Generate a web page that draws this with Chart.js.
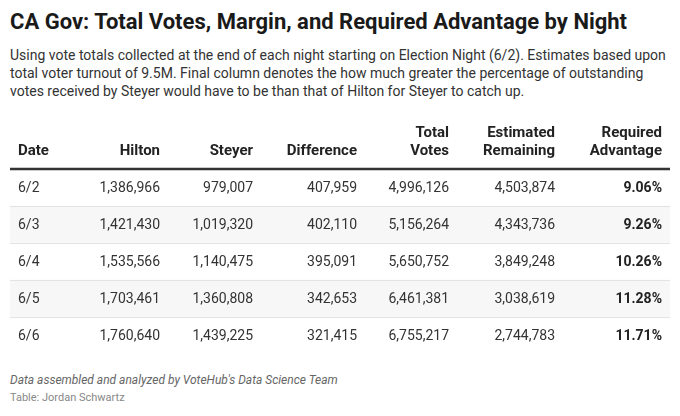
<!DOCTYPE html>
<html>
<head>
<meta charset="utf-8">
<script src="https://cdn.jsdelivr.net/npm/chart.js@4.4.0/dist/chart.umd.min.js"></script>
<style>
	html, body { margin: 0; padding: 0; background: #fff; }
	body { width: 680px; height: 416px; position: relative; overflow: hidden; font-family: Roboto, "Noto Sans", sans-serif; }
	#title { position: absolute; left: 10px; top: 8px; font-size: 22px; font-weight: 700; line-height: 28px; color: #1a1a1a; white-space: nowrap; }
	#subtitle { position: absolute; left: 10px; top: 46px; width: 665px; font-size: 14px; line-height: 18px; color: #333; }
	#source { position: absolute; left: 10px; top: 373px; font-size: 12px; font-style: italic; color: #666; }
	#byline { position: absolute; left: 10px; top: 391px; font-size: 11px; color: #888; }
	#wrap { position: absolute; left: 0; top: 110px; width: 680px; height: 250px; }
</style>
</head>
<body>
<div id="title">CA Gov: Total Votes, Margin, and Required Advantage by Night</div>
<div id="subtitle">Using vote totals collected at the end of each night starting on Election Night (6/2). Estimates based upon total voter turnout of 9.5M. Final column denotes the how much greater the percentage of outstanding votes received by Steyer would have to be than that of Hilton for Steyer to catch up.</div>
<div id="wrap"><canvas id="tableChart" width="680" height="250"></canvas></div>
<div id="source">Data assembled and analyzed by VoteHub's Data Science Team</div>
<div id="byline">Table: Jordan Schwartz</div>

<script>
// Data tabel per malam
const dates = ["6/2", "6/3", "6/4", "6/5", "6/6"];
const hilton = [1386966, 1421430, 1535566, 1703461, 1760640];
const steyer = [979007, 1019320, 1140475, 1360808, 1439225];
const difference = [407959, 402110, 395091, 342653, 321415];
const totalVotes = [4996126, 5156264, 5650752, 6461381, 6755217];
const remaining = [4503874, 4343736, 3849248, 3038619, 2744783];
const advantage = [9.06, 9.26, 10.26, 11.28, 11.71];
const headers = [
	["Date"],
	["Hilton"],
	["Steyer"],
	["Difference"],
	["Total", "Votes"],
	["Estimated", "Remaining"],
	["Required", "Advantage"],
];

function fmt(n) {
	return new Intl.NumberFormat("en-US").format(n);
}

// isi sel per kolom
const columns = [
	dates,
	hilton.map(fmt),
	steyer.map(fmt),
	difference.map(fmt),
	totalVotes.map(fmt),
	remaining.map(fmt),
	advantage.map((v) => v.toFixed(2) + "%"),
];

// posisi teks tiap kolom (unit skala x, lebar tabel 0..660)
const colAnchor = [8, 150, 243, 347, 439, 545, 652];
const colAlign = ["left", "right", "right", "right", "right", "right", "right"];

const tablePlugin = {
	id: "tableCells",
	afterDatasetsDraw(chart) {
		const ctx = chart.ctx;
		const x = chart.scales.x;
		const y = chart.scales.y;
		const area = chart.chartArea;
		ctx.save();

		// garis pemisah baris
		ctx.strokeStyle = "#e3e3e3";
		ctx.lineWidth = 1;
		for (let i = 0; i < dates.length - 1; i++) {
			const yy = Math.round((y.getPixelForValue(i) + y.getPixelForValue(i + 1)) / 2) + 0.5;
			ctx.beginPath();
			ctx.moveTo(area.left, yy);
			ctx.lineTo(area.right, yy);
			ctx.stroke();
		}

		// garis header
		ctx.strokeStyle = "#333";
		ctx.lineWidth = 2.5;
		ctx.beginPath();
		ctx.moveTo(area.left, area.top);
		ctx.lineTo(area.right, area.top);
		ctx.stroke();

		// header
		ctx.fillStyle = "#222";
		ctx.font = "700 15px Roboto";
		ctx.textBaseline = "middle";
		headers.forEach((lines, c) => {
			ctx.textAlign = colAlign[c];
			const px = x.getPixelForValue(colAnchor[c]);
			lines.forEach((t, k) => {
				const py = area.top - 18 - (lines.length - 1 - k) * 18;
				ctx.fillText(t, px, py);
			});
		});

		// sel
		columns.forEach((col, c) => {
			ctx.textAlign = colAlign[c];
			ctx.font = c === columns.length - 1 ? "700 14px Roboto" : "400 14px Roboto";
			ctx.fillStyle = c === columns.length - 1 ? "#222" : "#333";
			const px = x.getPixelForValue(colAnchor[c]);
			col.forEach((t, r) => {
				ctx.fillText(t, px, y.getPixelForValue(r) + 1);
			});
		});
		ctx.restore();
	},
};

document.addEventListener("DOMContentLoaded", function () {
	const el = document.getElementById("tableChart");
	new Chart(el, {
		type: "bar",
		data: {
			labels: dates,
			datasets: [
				{
					// latar baris (baris genap diarsir)
					data: dates.map(() => [0, 660]),
					backgroundColor: dates.map((d, i) => (i % 2 === 1 ? "#f7f7f7" : "#ffffff")),
					borderWidth: 0,
					barPercentage: 1,
					categoryPercentage: 1,
				},
			],
		},
		options: {
			indexAxis: "y",
			responsive: false,
			animation: false,
			layout: { padding: { top: 59, left: 10, right: 10, bottom: 6 } },
			scales: {
				x: { type: "linear", min: 0, max: 660, display: false },
				y: { type: "category", display: false, offset: true },
			},
			plugins: {
				legend: { display: false },
				tooltip: { enabled: false },
			},
		},
		plugins: [tablePlugin],
	});
});
</script>
</body>
</html>
